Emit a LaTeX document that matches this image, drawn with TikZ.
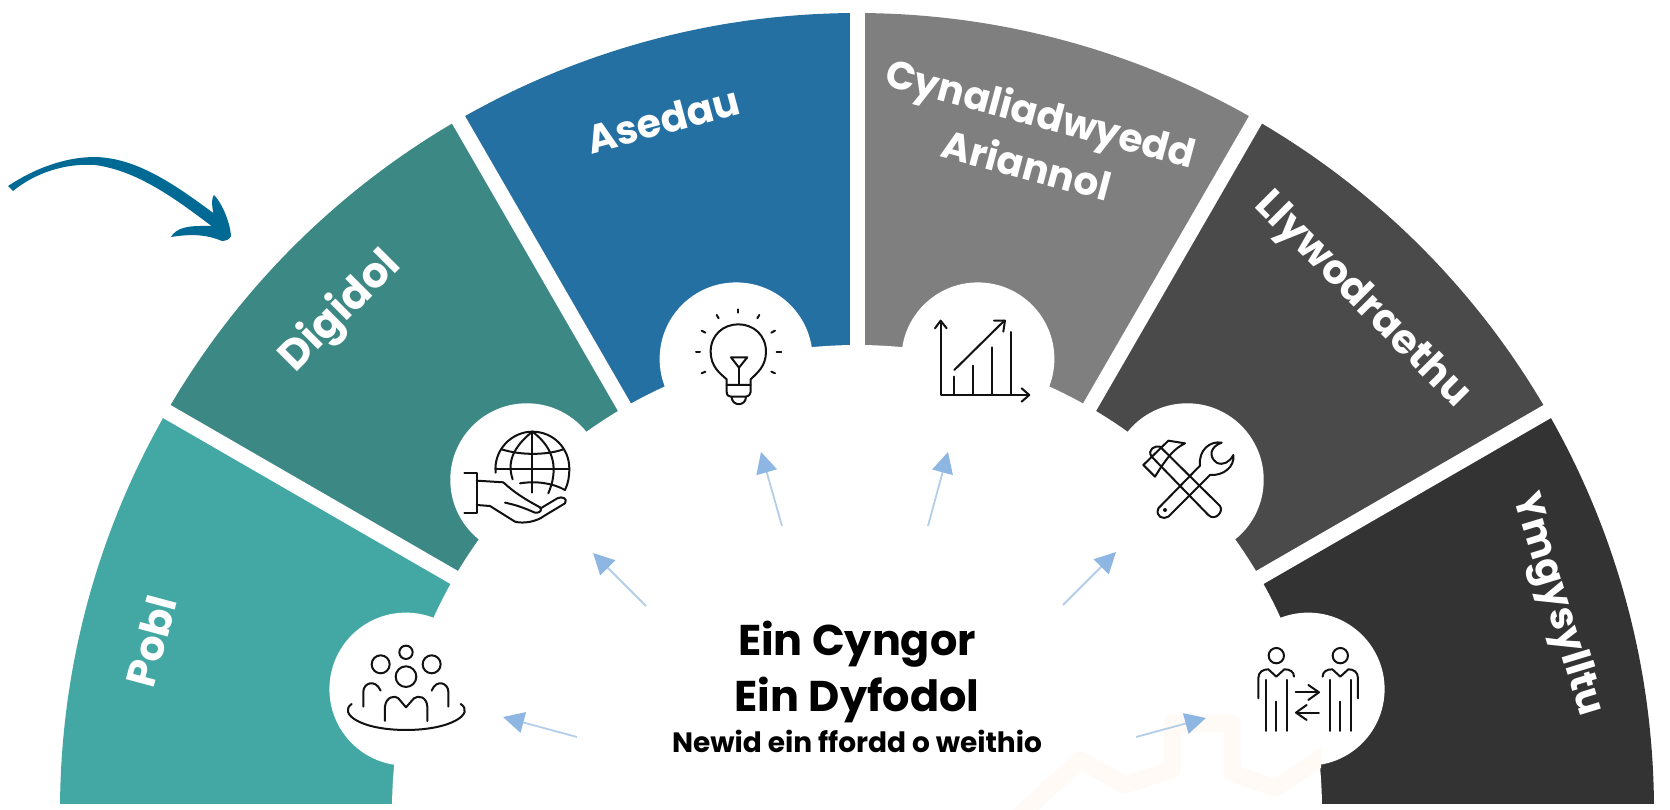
\documentclass[tikz,border=0pt]{standalone}
\usepackage{fontspec}
\usetikzlibrary{arrows.meta}
\newfontfamily\popf{Poppins}
\definecolor{cPobl}{HTML}{43A8A4}
\definecolor{cDig}{HTML}{3C8885}
\definecolor{cAsed}{HTML}{2470A2}
\definecolor{cCyn}{HTML}{7F7F7F}
\definecolor{cLly}{HTML}{4A4A4A}
\definecolor{cYmg}{HTML}{333333}
\definecolor{cSwoosh}{HTML}{006A94}
\definecolor{cHead}{HTML}{8DB6E2}
\definecolor{cShaft}{HTML}{B3CEE8}
\definecolor{cMark}{HTML}{FFFAF6}
\definecolor{cIcon}{HTML}{111111}
\newcommand{\sectorfill}[3]{\fill[#3] (857,810) -- plot[domain=#1:#2,samples=50] ({857+797*cos(\x)},{810-797*sin(\x)}) -- cycle;}
\tikzset{
  wedgegap/.style={white,line width=15pt},
  bump/.style={fill=white,draw=none,circle,minimum size=153pt,inner sep=0pt},
  seglabel/.style={font=\popf\bfseries\fontsize{#1}{48}\selectfont,text=white,align=center,inner sep=0pt},
  ctitle/.style={font=\popf\bfseries\fontsize{43}{50}\selectfont,text=black,anchor=base,inner sep=0pt},
  csub/.style={font=\popf\bfseries\fontsize{28}{32}\selectfont,text=black,anchor=base,inner sep=0pt},
  thinarrow/.style={draw=cShaft,line width=1.8pt,-{Triangle[length=21pt,width=21pt,color=cHead,fill=cHead]}},
  icon/.style={draw=cIcon,line width=2pt,line cap=round,line join=round},
  iconsc/.style={shift={(#1)},x=0.3333pt,y=-0.3333pt},
}
\begin{document}
\begin{tikzpicture}[x=1pt,y=-1pt]
\useasboundingbox (0,0) rectangle (1670,810);
\fill[white] (0,0) rectangle (1670,810);
% sectors
\begin{scope}
\clip (0,0) rectangle (1670,804);
\sectorfill{150}{180}{cPobl}
\sectorfill{120}{150}{cDig}
\sectorfill{90}{120}{cAsed}
\sectorfill{60}{90}{cCyn}
\sectorfill{30}{60}{cLly}
\sectorfill{0}{30}{cYmg}
\end{scope}
% gaps
\coordinate (C) at (857,810);
\foreach \a/\n in {30/ga,60/gb,90/gc,120/gd,150/ge}{
  \coordinate (\n) at ({857+810*cos(\a)},{810-810*sin(\a)});
  \draw[wedgegap] (C) -- (\n);
}
% inner disc and bumps
\fill[white] (C) circle (465);
\fill[white] (0,804) rectangle (1670,810);
\foreach \a/\n in {165/b1,135/b2,105/b3,75/b4,45/b5,15/b6}{
  \node[bump] (\n) at ({857+467*cos(\a)},{810-467*sin(\a)}) {};
}
% faint watermark
\begin{scope}
\clip (900,600) rectangle (1321,810);
\draw[cMark,line width=17pt,line join=round,line cap=round]
  (1020,815) -- (1080,760) -- (1125,785) -- (1172,770) -- (1172,723) -- (1232,723) -- (1232,773) -- (1275,788) -- (1330,752);
\end{scope}
% swoosh
\fill[cSwoosh] (8,186) .. controls (40,165) and (70,157) .. (95,157)
  .. controls (140,158) and (180,188) .. (228,224) -- (222,234)
  .. controls (180,202) and (140,171) .. (95,165)
  .. controls (65,163) and (35,173) .. (13,191) -- cycle;
\fill[cSwoosh] (231,236) .. controls (230,222) and (222,203) .. (214,195)
  .. controls (210,200) and (213,215) .. (217,226) -- (200,226)
  .. controls (188,226) and (176,228) .. (171,237)
  .. controls (190,234) and (205,234) .. (222,241) .. controls (226,241) and (230,239) .. (231,236) -- cycle;
% labels
\node[seglabel=41,rotate=75] (lPobl) at (151,641) {Pobl};
\node[seglabel=42,rotate=45] (lDig) at (341,312) {Digidol};
\node[seglabel=39.5,rotate=15] (lAsed) at (663,120) {Asedau};
\node[seglabel=39,rotate=-15] (lCyn) at (1034,138) {Cynaliadwyedd\\[6pt]Ariannol};
\node[seglabel=40.5,rotate=-45] (lLly) at (1361,301) {Llywodraethu};
\node[seglabel=39,rotate=-73] (lYmg) at (1556,605) {Ymgysylltu};
% centre text
\node[ctitle] (t1) at (857,655) {Ein Cyngor};
\node[ctitle] (t2) at (857,711) {Ein Dyfodol};
\node[csub] (t3) at (857,752) {Newid ein ffordd o weithio};
% thin arrows
\coordinate (a1-s) at (577,737); \coordinate (a1-e) at (503,717);
\coordinate (a2-s) at (646,606); \coordinate (a2-e) at (593,553);
\coordinate (a3-s) at (782,526); \coordinate (a3-e) at (761,452);
\coordinate (a4-s) at (928,526); \coordinate (a4-e) at (948,452);
\coordinate (a5-s) at (1063,605); \coordinate (a5-e) at (1116,552);
\coordinate (a6-s) at (1136,737); \coordinate (a6-e) at (1206,718);
\foreach \i in {1,...,6}{\draw[thinarrow] (a\i-s) -- (a\i-e);}
% people icon
\begin{scope}[iconsc={320,420}]
\draw[icon] (258,697) circle (20);
\draw[icon] (182,733) circle (27);
\draw[icon] (335,733) circle (27);
\draw[icon] (258,770) circle (31);
\draw[icon] (130,860) -- (130,815) .. controls (130,790) and (165,775) .. (182,812);
\draw[icon] (385,860) -- (385,815) .. controls (385,790) and (350,775) .. (335,812);
\draw[icon] (195,903) -- (195,860) .. controls (198,830) and (225,825) .. (235,835) -- (258,862) -- (282,835) .. controls (295,825) and (320,830) .. (322,860) -- (322,903);
\draw[icon] (95,852) .. controls (55,880) and (120,930) .. (258,930) .. controls (395,930) and (465,880) .. (422,852);
% globe and hand
\draw[icon] (527,158) .. controls (520,90) and (575,35) .. (637,35) .. controls (700,35) and (748,85) .. (748,145) .. controls (748,170) and (745,190) .. (735,210);
\draw[icon] (527,148) -- (748,148);
\draw[icon] (545,88) .. controls (600,106) and (680,106) .. (730,88);
\draw[icon] (600,190) .. controls (650,182) and (700,190) .. (735,210);
\draw[icon] (637,35) -- (637,218);
\draw[icon] (637,35) .. controls (575,85) and (562,130) .. (578,178);
\draw[icon] (637,35) .. controls (705,85) and (715,150) .. (685,220);
\draw[icon] (433,160) -- (470,160) -- (470,280) -- (433,280);
\draw[icon] (470,182) -- (550,187) .. controls (580,215) and (610,235) .. (660,262) .. controls (668,270) and (660,280) .. (645,278) .. controls (615,265) and (590,255) .. (555,248);
\draw[icon] (470,255) -- (510,258) -- (585,305) .. controls (610,312) and (650,305) .. (672,288) -- (735,250) .. controls (745,235) and (725,228) .. (712,235) -- (662,265);
\end{scope}
% bulb and chart
\begin{scope}[iconsc={620,280}]
\draw[icon] (320,315) -- (320,298) .. controls (300,280) and (272,260) .. (272,215) .. controls (272,165) and (310,133) .. (355,133) .. controls (400,133) and (438,165) .. (438,215) .. controls (438,260) and (410,280) .. (392,298) -- (392,315);
\draw[icon] (320,315) -- (392,315) -- (392,335) .. controls (390,345) and (385,350) .. (378,350) -- (332,350) .. controls (325,350) and (320,345) .. (320,335) -- cycle;
\draw[icon] (335,350) .. controls (335,380) and (378,380) .. (378,350);
\draw[icon] (333,232) -- (382,232) -- (357,263) -- cycle;
\draw[icon] (357,263) -- (357,315);
\foreach \p/\q in {{355,88}/{355,98},{290,105}/{296,115},{418,105}/{412,115},{245,152}/{256,158},{465,152}/{454,158},{228,215}/{240,215},{470,215}/{484,215},{245,280}/{256,275},{465,280}/{454,275}}{
  \draw[icon] (\p) -- (\q);
}
\draw[icon] (962,125) -- (962,345) -- (1225,345);
\draw[icon] (945,145) -- (962,122) -- (980,145);
\draw[icon] (1205,325) -- (1228,345) -- (1205,365);
\draw[icon] (1003,290) -- (1003,345);
\draw[icon] (1060,257) -- (1060,345);
\draw[icon] (1116,202) -- (1116,345);
\draw[icon] (1172,156) -- (1172,345);
\draw[icon] (1003,270) -- (1153,122);
\draw[icon] (1122,122) -- (1155,122) -- (1150,155);
\end{scope}
% tools and two people
\begin{scope}[iconsc={1100,400}]
\draw[icon] (130,195) -- (205,122) -- (255,130) .. controls (225,145) and (205,165) .. (165,230) -- cycle;
\draw[icon] (180,140) -- (360,318) .. controls (372,335) and (345,365) .. (325,345) -- (155,170) .. controls (140,150) and (165,135) .. (180,140);
\draw[icon] (300,197) .. controls (295,150) and (330,122) .. (365,128) .. controls (330,140) and (325,170) .. (350,188) .. controls (370,198) and (390,185) .. (400,165) .. controls (405,200) and (370,228) .. (330,225) -- (205,350) .. controls (190,360) and (165,350) .. (175,325) -- cycle;
\fill[cIcon] (195,330) circle (6);
\draw[icon] (529,767) circle (23);
\draw[icon] (721,767) circle (23);
\draw[icon] (475,895) -- (475,835) .. controls (475,815) and (490,808) .. (505,808) -- (529,830) -- (553,808) .. controls (570,808) and (582,815) .. (582,830);
\draw[icon] (774,895) -- (774,835) .. controls (774,815) and (760,808) .. (745,808) -- (721,830) -- (697,808) .. controls (680,808) and (668,815) .. (668,830);
\draw[icon] (497,840) -- (497,993);
\draw[icon] (529,905) -- (529,993);
\draw[icon] (561,840) -- (561,993);
\draw[icon] (689,840) -- (689,993);
\draw[icon] (721,905) -- (721,993);
\draw[icon] (753,840) -- (753,993);
\draw[icon] (587,877) -- (655,877);
\draw[icon] (625,855) -- (657,877) -- (625,900);
\draw[icon] (657,938) -- (590,938);
\draw[icon] (620,915) -- (588,938) -- (620,960);
\end{scope}
\end{tikzpicture}
\end{document}
